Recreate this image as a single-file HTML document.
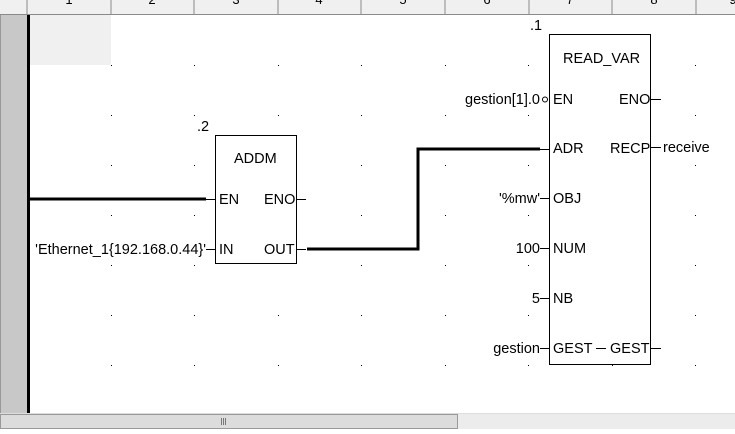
<!DOCTYPE html>
<html><head><style>
body{margin:0;width:735px;height:429px;overflow:hidden;background:#fff;font-family:"Liberation Sans",Arial,sans-serif;}
svg text{font-family:"Liberation Sans",Arial,sans-serif;font-size:14.5px;fill:#000;}
svg text.h{font-size:13px;}
</style></head><body>
<svg width="735" height="429" xmlns="http://www.w3.org/2000/svg">
<rect x="0" y="0" width="735" height="14" fill="#f0f0f0"/>
<g text-anchor="middle">
<text class="h" x="69" y="4">1</text><text class="h" x="152" y="4">2</text><text class="h" x="236" y="4">3</text><text class="h" x="319" y="4">4</text>
<text class="h" x="403" y="4">5</text><text class="h" x="487" y="4">6</text><text class="h" x="570" y="4">7</text><text class="h" x="654" y="4">8</text><text class="h" x="733" y="4">9</text>
</g>
<line x1="0" y1="14.5" x2="735" y2="14.5" stroke="#8a8a8a"/>
<g stroke="#8a8a8a">
<line x1="27" y1="0" x2="27" y2="15"/><line x1="111" y1="0" x2="111" y2="15"/><line x1="194" y1="0" x2="194" y2="15"/>
<line x1="278" y1="0" x2="278" y2="15"/><line x1="361" y1="0" x2="361" y2="15"/><line x1="445" y1="0" x2="445" y2="15"/>
<line x1="529" y1="0" x2="529" y2="15"/><line x1="612" y1="0" x2="612" y2="15"/><line x1="696" y1="0" x2="696" y2="15"/>
</g>
<rect x="0" y="15" width="27" height="398" fill="#c8c8c8"/>
<line x1="0.5" y1="15" x2="0.5" y2="413" stroke="#999"/>
<rect x="27" y="15" width="3" height="398" fill="#000"/>
<rect x="30" y="15" width="81" height="50" fill="#f0f0f0"/>
<g fill="#000">
<rect x="111" y="65" width="1" height="1"/><rect x="194" y="65" width="1" height="1"/><rect x="278" y="65" width="1" height="1"/><rect x="361" y="65" width="1" height="1"/><rect x="445" y="65" width="1" height="1"/><rect x="528" y="65" width="1" height="1"/><rect x="695" y="65" width="1" height="1"/>
<rect x="111" y="115" width="1" height="1"/><rect x="194" y="115" width="1" height="1"/><rect x="278" y="115" width="1" height="1"/><rect x="361" y="115" width="1" height="1"/><rect x="445" y="115" width="1" height="1"/><rect x="528" y="115" width="1" height="1"/><rect x="695" y="115" width="1" height="1"/>
<rect x="111" y="165" width="1" height="1"/><rect x="194" y="165" width="1" height="1"/><rect x="361" y="165" width="1" height="1"/><rect x="445" y="165" width="1" height="1"/><rect x="528" y="165" width="1" height="1"/><rect x="695" y="165" width="1" height="1"/>
<rect x="111" y="215" width="1" height="1"/><rect x="194" y="215" width="1" height="1"/><rect x="361" y="215" width="1" height="1"/><rect x="445" y="215" width="1" height="1"/><rect x="528" y="215" width="1" height="1"/><rect x="695" y="215" width="1" height="1"/>
<rect x="111" y="265" width="1" height="1"/><rect x="194" y="265" width="1" height="1"/><rect x="361" y="265" width="1" height="1"/><rect x="445" y="265" width="1" height="1"/><rect x="528" y="265" width="1" height="1"/><rect x="695" y="265" width="1" height="1"/>
<rect x="111" y="315" width="1" height="1"/><rect x="194" y="315" width="1" height="1"/><rect x="278" y="315" width="1" height="1"/><rect x="361" y="315" width="1" height="1"/><rect x="445" y="315" width="1" height="1"/><rect x="528" y="315" width="1" height="1"/><rect x="695" y="315" width="1" height="1"/>
<rect x="111" y="365" width="1" height="1"/><rect x="194" y="365" width="1" height="1"/><rect x="278" y="365" width="1" height="1"/><rect x="361" y="365" width="1" height="1"/><rect x="445" y="365" width="1" height="1"/><rect x="528" y="365" width="1" height="1"/><rect x="612" y="365" width="1" height="1"/><rect x="695" y="365" width="1" height="1"/>
</g>
<rect x="215.5" y="135.5" width="81" height="128" fill="none" stroke="#000"/>
<text x="197" y="131">.2</text>
<text x="234" y="163">ADDM</text>
<text x="219" y="204">EN</text><text x="264" y="204">ENO</text>
<text x="219" y="254">IN</text><text x="264" y="254">OUT</text>
<line x1="30" y1="199" x2="206" y2="199" stroke="#000" stroke-width="3"/>
<line x1="206" y1="199.5" x2="215" y2="199.5" stroke="#000"/>
<line x1="297" y1="199.5" x2="306" y2="199.5" stroke="#000"/>
<text x="206" y="254" text-anchor="end">'Ethernet_1{192.168.0.44}'</text>
<line x1="206" y1="249.5" x2="215" y2="249.5" stroke="#000"/>
<line x1="297" y1="249.5" x2="306" y2="249.5" stroke="#000"/>
<polyline points="307,249 418,249 418,149 540,149" fill="none" stroke="#000" stroke-width="3"/>
<rect x="549.5" y="34.5" width="101" height="330" fill="none" stroke="#000"/>
<text x="530" y="30">.1</text>
<text x="563" y="63">READ_VAR</text>
<text x="553" y="104">EN</text><text x="619" y="104">ENO</text>
<text x="553" y="153">ADR</text><text x="610" y="153">RECP</text>
<text x="553" y="203">OBJ</text>
<text x="553" y="253">NUM</text>
<text x="553" y="303">NB</text>
<text x="553" y="353">GEST</text><text x="610" y="353">GEST</text>
<line x1="596" y1="348.5" x2="606" y2="348.5" stroke="#000"/>
<text x="540" y="104" text-anchor="end">gestion[1].0</text>
<circle cx="545" cy="99.5" r="2.5" fill="#fff" stroke="#000"/>
<line x1="540" y1="149.5" x2="549" y2="149.5" stroke="#000"/>
<text x="540" y="203" text-anchor="end">'%mw'</text><line x1="540" y1="198.5" x2="549" y2="198.5" stroke="#000"/>
<text x="540" y="253" text-anchor="end">100</text><line x1="540" y1="248.5" x2="549" y2="248.5" stroke="#000"/>
<text x="540" y="303" text-anchor="end">5</text><line x1="540" y1="298.5" x2="549" y2="298.5" stroke="#000"/>
<text x="540" y="353" text-anchor="end">gestion</text><line x1="540" y1="348.5" x2="549" y2="348.5" stroke="#000"/>
<line x1="651" y1="99.5" x2="661" y2="99.5" stroke="#000"/>
<line x1="651" y1="147.5" x2="661" y2="147.5" stroke="#000"/>
<text x="663" y="152">receive</text>
<line x1="651" y1="348.5" x2="661" y2="348.5" stroke="#000"/>
<rect x="0" y="413" width="735" height="16" fill="#ececec"/>
<line x1="0" y1="413.5" x2="735" y2="413.5" stroke="#ddd"/>
<rect x="0.5" y="414.5" width="457" height="14" fill="#dcdcdc" stroke="#999"/>
<g stroke="#777"><line x1="221.5" y1="418" x2="221.5" y2="425"/><line x1="223.5" y1="418" x2="223.5" y2="425"/><line x1="225.5" y1="418" x2="225.5" y2="425"/></g>
</svg>
</body></html>
